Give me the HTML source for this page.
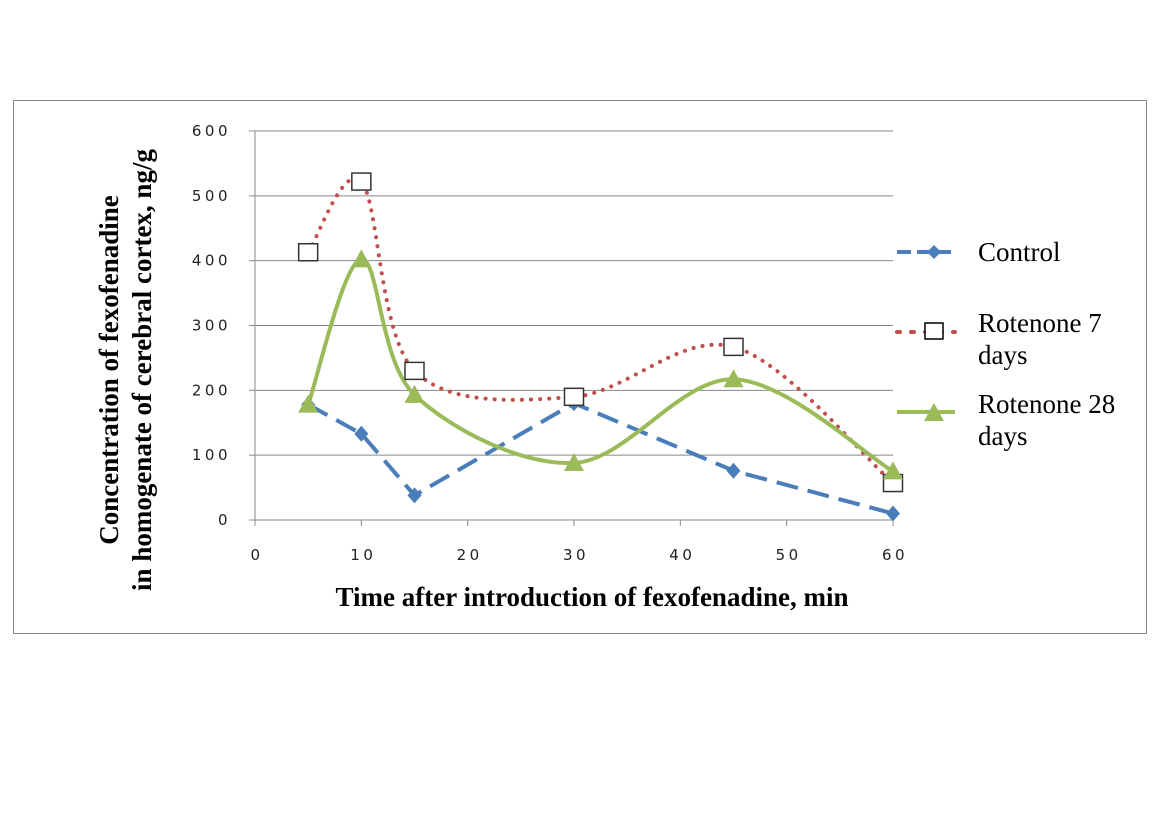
<!DOCTYPE html>
<html><head><meta charset="utf-8"><style>
body{margin:0;background:#fff;width:1166px;height:827px;overflow:hidden}
svg{display:block}
</style></head><body>
<svg id="chart" width="1166" height="827" xmlns="http://www.w3.org/2000/svg">
<rect x="13.5" y="100.5" width="1133" height="533" fill="#fff" stroke="#888" stroke-width="1"/>
<g id="grid"></g><g id="axes"></g><g id="series"></g>
<text x="592" y="606" text-anchor="middle" font-family="Liberation Serif, serif" font-weight="bold" font-size="27">Time after introduction of fexofenadine, min</text>
<g font-family="Liberation Serif, serif" font-weight="bold" font-size="27" text-anchor="middle">
<text transform="translate(118,370) rotate(-90)">Concentration of fexofenadine</text>
<text transform="translate(151,370) rotate(-90)">in homogenate of cerebral cortex, ng/g</text>
</g>
<g font-family="Liberation Serif, serif" font-size="27">
<g>
<line x1="897" y1="252" x2="955" y2="252" stroke="#4a7ebb" stroke-width="4" stroke-dasharray="14,6"/>
<path d="M934 245 L941 252 L934 259 L927 252Z" fill="#4a7ebb"/>
<text x="978" y="261">Control</text></g>
<g>
<line x1="897" y1="332" x2="955" y2="332" stroke="#c0504d" stroke-width="4" stroke-dasharray="3,11" stroke-linecap="round"/>
<rect x="925" y="323" width="18" height="16" fill="#fff" stroke="#000" stroke-width="1.5"/>
<text x="978" y="332">Rotenone 7</text><text x="978" y="364">days</text></g>
<g>
<line x1="897" y1="412" x2="955" y2="412" stroke="#9bbb59" stroke-width="4"/>
<path d="M934 403 L944 421 L924 421Z" fill="#9bbb59"/>
<text x="978" y="413">Rotenone 28</text><text x="978" y="445">days</text></g>
</g>
</svg>
<script>
const xVals=[5,10,15,30,45,60];
const control=[178,133,38,180,76,10];
const rot7=[413,522,230,190,267,57];
const rot28=[178,402,193,88,217,75];
const xTicks=[0,10,20,30,40,50,60];
const yTicks=[0,100,200,300,400,500,600];
const NS='http://www.w3.org/2000/svg';
const X=v=>255+v*(893-255)/60, Y=v=>520-v*(520-131)/600;
function mk(t,a,p){const e=document.createElementNS(NS,t);for(const k in a)e.setAttribute(k,a[k]);p.appendChild(e);return e;}
const grid=document.getElementById('grid'),axes=document.getElementById('axes'),ser=document.getElementById('series');
yTicks.forEach(t=>{
 const l=mk('line',{x1:255,x2:893,y1:Y(t),y2:Y(t),stroke:'#888','stroke-width':1},grid);
 
 
 const tx=mk('text',{x:231,y:Y(t)+5,'text-anchor':'end','font-family':'DejaVu Sans, sans-serif','font-size':15,'letter-spacing':'3.5',fill:'#222'},axes);tx.textContent=t;
 
 
 mk('line',{x1:249,x2:255,y1:Y(t),y2:Y(t),stroke:'#888'},axes);
});
const ya=mk('line',{x1:255,x2:255,y1:131,y2:520,stroke:'#888'},axes);


xTicks.forEach(t=>{
 mk('line',{x1:X(t),x2:X(t),y1:520,y2:526,stroke:'#888'},axes);
 const tx=mk('text',{x:X(t)+2,y:560,'text-anchor':'middle','font-family':'DejaVu Sans, sans-serif','font-size':15,'letter-spacing':'3.5',fill:'#222'},axes);tx.textContent=t;
 
 
});
function smooth(pts){let d='M'+pts[0][0]+' '+pts[0][1];for(let i=0;i<pts.length-1;i++){const p0=pts[i-1]||pts[i],p1=pts[i],p2=pts[i+1],p3=pts[i+2]||p2;const t=1/6;
 d+=` C${p1[0]+(p2[0]-p0[0])*t} ${p1[1]+(p2[1]-p0[1])*t} ${p2[0]-(p3[0]-p1[0])*t} ${p2[1]-(p3[1]-p1[1])*t} ${p2[0]} ${p2[1]}`;}return d;}
function linear(pts){return 'M'+pts.map(p=>p[0]+' '+p[1]).join(' L');}
const pc=control.map((v,i)=>[X(xVals[i]),Y(v)]),p7=rot7.map((v,i)=>[X(xVals[i]),Y(v)]),p28=rot28.map((v,i)=>[X(xVals[i]),Y(v)]);
let e=mk('path',{d:linear(pc),fill:'none',stroke:'#4a7ebb','stroke-width':4,'stroke-dasharray':'22,10'},ser);


e=mk('path',{d:smooth(p7),fill:'none',stroke:'#c0504d','stroke-width':4,'stroke-dasharray':'0.1,9','stroke-linecap':'round'},ser);


e=mk('path',{d:smooth(p28),fill:'none',stroke:'#9bbb59','stroke-width':4},ser);


pc.forEach(p=>{const m=mk('path',{d:`M${p[0]} ${p[1]-8}L${p[0]+7} ${p[1]}L${p[0]} ${p[1]+8}L${p[0]-7} ${p[1]}Z`,fill:'#4a7ebb'},ser);
 
 });
p7.forEach(p=>{const m=mk('rect',{x:p[0]-9.5,y:p[1]-8.5,width:19,height:17,fill:'#fff',stroke:'#333','stroke-width':1.5},ser);
 
 });
p28.forEach(p=>{const m=mk('path',{d:`M${p[0]} ${p[1]-10}L${p[0]+10} ${p[1]+8}L${p[0]-10} ${p[1]+8}Z`,fill:'#9bbb59'},ser);
 
 });
</script>
</body></html>
